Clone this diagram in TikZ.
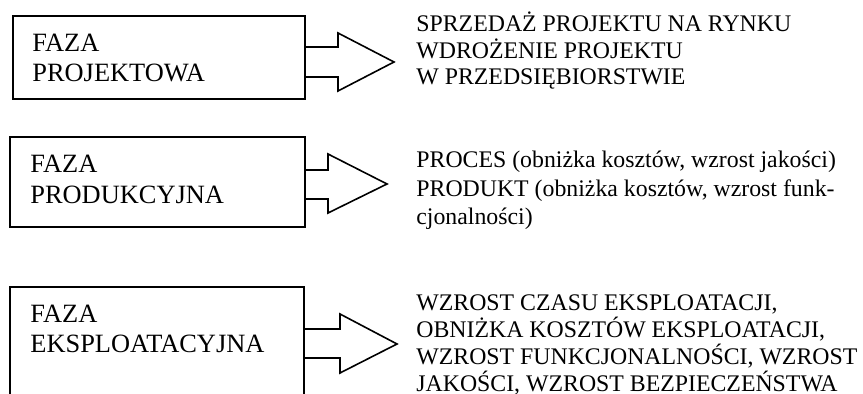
\documentclass[tikz,border=0pt]{standalone}
\usepackage{fontspec}
\setmainfont{Liberation Serif}

\begin{document}
\begin{tikzpicture}[x=0.5pt,y=-0.5pt]
  \tikzset{FazaStyle/.style = {
    shape         = rectangle,
    draw          = black,
    line width    = 1pt,
    inner sep     = 0pt,
    minimum width = 146pt,
    anchor        = north west
    }
  }
  \tikzset{FazaTekstStyle/.style = {
    align         = left,
    inner sep     = 0pt,
    anchor        = base west,
    font          = \fontsize{13.2}{15.4}\selectfont
    }
  }
  \tikzset{OpisStyle/.style = {
    align         = left,
    inner sep     = 0pt,
    anchor        = base west,
    font          = \fontsize{11.9}{#1}\selectfont
    },
    OpisStyle/.default = 13.6
  }
  \tikzset{StrzalkaStyle/.style = {
    draw          = black,
    line width    = 0.8pt,
    line join     = miter
    }
  }

  \clip (0,0) rectangle (863,394);

	\node[FazaStyle, minimum width=146pt, minimum height=41.5pt](F1) at (12,15) {};
	\node[FazaStyle, minimum width=147.5pt, minimum height=45pt](F2) at (9,136) {};
	\node[FazaStyle, minimum width=147pt, minimum height=70pt](F3) at (9,286) {};

	% base west = baseline of the last line
	\node[FazaTekstStyle](T1) at ([shift={(20,67)}]F1.north west) {FAZA\\PROJEKTOWA};
	\node[FazaTekstStyle](T2) at ([shift={(21,67.3)}]F2.north west) {FAZA\\PRODUKCYJNA};
	\node[FazaTekstStyle](T3) at ([shift={(21,67)}]F3.north west) {FAZA\\EKSPLOATACYJNA};

	\draw[StrzalkaStyle] (F1.east |- 0,47) -- (338,47) -- (338,33) -- (394,62)
	  -- (338,91) -- (338,77) -- (F1.east |- 0,77);
	\draw[StrzalkaStyle] (F2.east |- 0,170) -- (328,170) -- (328,154) -- (387,184)
	  -- (328,213) -- (328,199) -- (F2.east |- 0,199);
	\draw[StrzalkaStyle] (F3.east |- 0,329) -- (340,329) -- (340,314) -- (397,344)
	  -- (340,373) -- (340,358) -- (F3.east |- 0,358);

	\node[OpisStyle=13.35](O1) at (416,85)
	  {SPRZEDAŻ PROJEKTU NA RYNKU\\WDROŻENIE PROJEKTU\\W PRZEDSIĘBIORSTWIE};
	\node[OpisStyle=14.25](O2) at (416,225)
	  {PROCES (obniżka kosztów, wzrost jakości)\\PRODUKT (obniżka kosztów, wzrost funk-\\cjonalności)};
	\node[OpisStyle](O3) at (416,391.7)
	  {WZROST CZASU EKSPLOATACJI,\\OBNIŻKA KOSZTÓW EKSPLOATACJI,\\WZROST FUNKCJONALNOŚCI, WZROST\\JAKOŚCI, WZROST BEZPIECZEŃSTWA};

\end{tikzpicture}
\end{document}
